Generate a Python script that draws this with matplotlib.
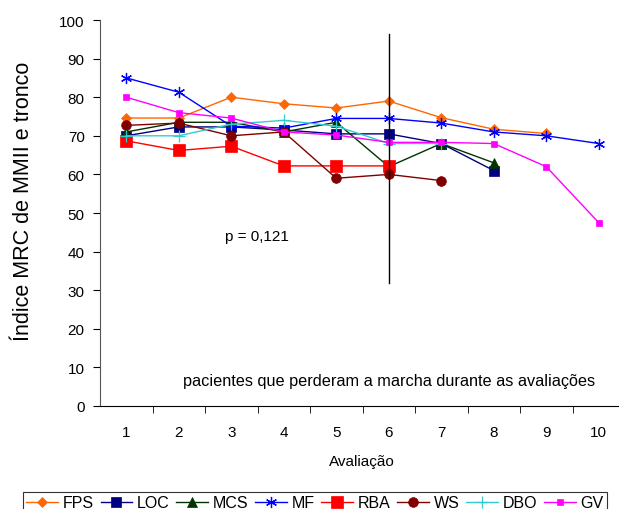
import numpy as np
import matplotlib
matplotlib.use("Agg")
import matplotlib.pyplot as plt

plt.rcParams['font.family'] = ['Liberation Sans', 'DejaVu Sans']

# **Data**
avaliacoes = [1, 2, 3, 4, 5, 6, 7, 8, 9, 10]
fps = [74.6, 74.6, 80.0, 78.3, 77.2, 79.0, 74.7, 71.7, 70.6]
loc = [70.0, 72.3, 72.3, 71.5, 70.5, 70.5, 68.0, 61.0]
mcs = [71.0, 73.5, 73.5, 71.0, 73.5, 62.0, 68.0, 63.0]
mf = [85.0, 81.3, 72.5, 72.0, 74.5, 74.5, 73.3, 71.0, 70.0, 68.0]
rba = [68.7, 66.2, 67.3, 62.2, 62.2, 62.2]
ws = [72.7, 73.3, 70.0, 71.0, 59.0, 60.0, 58.4]
dbo = [70.0, 70.0, 73.0, 74.0, 72.5, 68.0, 68.0]
gv = [80.0, 76.0, 74.6, 71.0, 70.2, 68.3, 68.3, 68.0, 62.0, 47.5]

series = [
    ("FPS", fps, "#FF6600", "D", 5),
    ("LOC", loc, "#000080", "s", 7),
    ("MCS", mcs, "#003300", "^", 7),
    ("MF", mf, "#0000FF", (6, 2, 0), 8),
    ("RBA", rba, "#FF0000", "s", 8),
    ("WS", ws, "#800000", "o", 7),
    ("DBO", dbo, "#33CCCC", "+", 8),
    ("GV", gv, "#FF00FF", "s", 4),
]

# **Figure**
fig = plt.figure(figsize=(6.19, 5.10), dpi=100)
ax = fig.add_axes([100 / 619, 103 / 510, 525 / 619, 386 / 510])

for name, vals, color, marker, ms in series:
    ax.plot(avaliacoes[:len(vals)], vals, color=color, marker=marker, markersize=ms,
            linewidth=1, label=name, markeredgewidth=0.9 if marker in ("+", (6, 2, 0)) else 0.5,
            markeredgecolor=color)

# vertical line at evaluation 6
ax.plot([6, 6], [31.8, 96.4], color="black", linewidth=1)

ax.text(2.88, 44, "p = 0,121", fontsize=11, va="center")
ax.text(2.09, 6.5, "pacientes que perderam a marcha durante as avaliações",
        fontsize=11.7, va="center")

ax.set_xlim(0.5, 10.5)
ax.set_ylim(0, 100)
ax.set_yticks(np.arange(0, 101, 10))
ax.set_xticks(avaliacoes)
ax.set_xticks(np.arange(1.5, 10, 1), minor=True)
ax.tick_params(axis="x", which="major", length=0, pad=14, labelsize=11)
ax.tick_params(axis="x", which="minor", length=5, direction="out")
ax.tick_params(axis="y", length=5, direction="out", labelsize=11, pad=6)
ax.spines["top"].set_visible(False)
ax.spines["right"].set_visible(False)
ax.spines["left"].set_color("#555555")

ax.set_xlabel("Avaliação", fontsize=11)
ax.xaxis.set_label_coords((362 - 100) / 525, -0.125)
ax.set_ylabel("Índice MRC de MMII e tronco", fontsize=15.5)
ax.yaxis.set_label_coords(-0.126, 0.534)

leg = fig.legend(loc="upper center", bbox_to_anchor=(315 / 619, 1 - 485 / 510), ncol=8,
                 fontsize=11.5, frameon=True, fancybox=False, edgecolor="black",
                 handlelength=2.0, handletextpad=0.3, columnspacing=0.4,
                 borderpad=0.2)
leg.get_frame().set_linewidth(0.8)

fig.savefig("out.png", dpi=100)
